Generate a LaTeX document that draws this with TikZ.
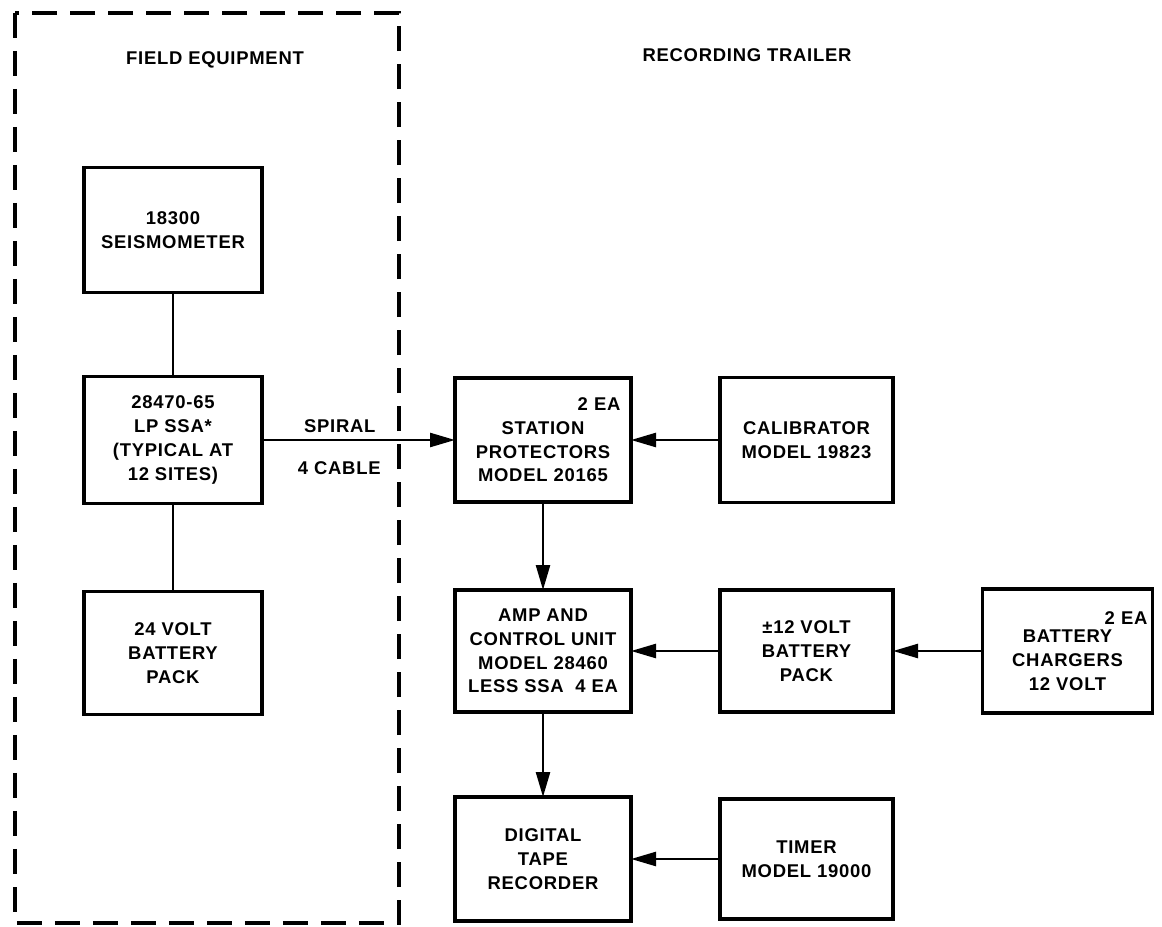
\documentclass[tikz,border=0pt]{standalone}
\usepackage{fontspec}
\setmainfont{Liberation Sans}[LetterSpace=4]
\usepackage{tikz}
\usetikzlibrary{arrows.meta,positioning}

\begin{document}
\begin{tikzpicture}[
  node distance=1.76cm and 1.78cm,
  unitbox/.style={draw, line width=2.2pt, outer sep=0pt, align=center, inner sep=2pt,
    font=\fontsize{10.5}{13.5}\selectfont\bfseries},
  head/.style={font=\fontsize{10.5}{13}\selectfont\bfseries},
  link/.style={line width=1.4pt},
  arrow/.style={-{Triangle[length=0.5cm,width=0.28cm]}, line width=1.4pt},
  fieldframe/.style={line width=2pt, dash pattern=on 0.5cm off 0.26cm}
]
\useasboundingbox (0,0) rectangle (23.24,-18.54);

% field equipment
\draw[fieldframe] (0.3,-0.26) rectangle (7.98,-18.46);
\node[head] (fieldlbl) at (4.3,-1.2) {FIELD EQUIPMENT};
\node[head] (traillbl) at (14.94,-1.1) {RECORDING TRAILER};

\node[unitbox, minimum width=3.56cm, minimum height=2.54cm] (lpssa) at (3.46,-8.8)
  {28470-65\\LP SSA*\\(TYPICAL AT\\12 SITES)};
\node[unitbox, minimum width=3.56cm, minimum height=2.5cm, above=1.68cm of lpssa] (seis)
  {18300\\SEISMOMETER};
\node[unitbox, minimum width=3.56cm, minimum height=2.46cm, below=1.76cm of lpssa] (batt)
  {24 VOLT\\BATTERY\\PACK};

% recording trailer
\node[unitbox, minimum width=3.52cm, minimum height=2.48cm, text width=3.1cm,
  right=3.86cm of lpssa] (stat)
  {\makebox[3.1cm][r]{2 EA}\\STATION\\PROTECTORS\\MODEL 20165};
\node[unitbox, minimum width=3.46cm, minimum height=2.5cm, right=of stat] (cal)
  {CALIBRATOR\\MODEL 19823};
\node[unitbox, minimum width=3.52cm, minimum height=2.44cm, below=of stat] (amp)
  {AMP AND\\CONTROL UNIT\\MODEL 28460\\LESS SSA~~4 EA};
\node[unitbox, minimum width=3.46cm, minimum height=2.44cm, right=of amp] (pack)
  {±12 VOLT\\BATTERY\\PACK};
\node[unitbox, minimum width=3.4cm, minimum height=2.48cm, text width=3.2cm,
  right=1.79cm of pack] (chg)
  {\makebox[3.2cm][r]{2 EA}\\[-3pt]BATTERY\\CHARGERS\\12 VOLT};
\node[unitbox, minimum width=3.52cm, minimum height=2.48cm, below=1.7cm of amp] (dtr)
  {DIGITAL\\TAPE\\RECORDER};
\node[unitbox, minimum width=3.46cm, minimum height=2.4cm, right=of dtr] (timer)
  {TIMER\\MODEL 19000};

\draw[link] (seis) -- (lpssa);
\draw[link] (lpssa) -- (batt);
\draw[arrow] (lpssa) -- (stat)
  node[head, pos=0.18, anchor=south west, inner sep=3.5pt] {SPIRAL}
  node[head, pos=0.18, anchor=north west, inner sep=0pt, yshift=-11.5pt] {4 CABLE};
\draw[arrow] (cal) -- (stat);
\draw[arrow] (stat) -- (amp);
\draw[arrow] (pack) -- (amp);
\draw[arrow] (chg) -- (pack);
\draw[arrow] (amp) -- (dtr);
\draw[arrow] (timer) -- (dtr);
\end{tikzpicture}
\end{document}
